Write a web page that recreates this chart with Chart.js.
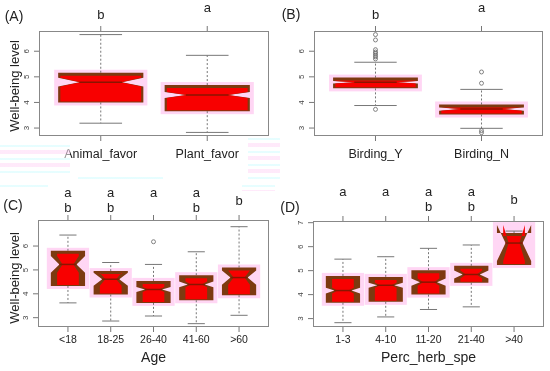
<!DOCTYPE html>
<html lang="en">
<head>
<meta charset="UTF-8" />
<title>Well-being level boxplots</title>
<script src="https://cdn.jsdelivr.net/npm/chart.js"></script>
<style>
  html, body { margin: 0; padding: 0; background: #fff; }
  #wrap { position: relative; width: 550px; height: 371px; overflow: hidden; }
  canvas { position: absolute; }
  .glitch { position: absolute; opacity: 0.55;
    background: repeating-linear-gradient(180deg, #d2fcff 0 2px, #fff 2px 5px, #ffd8f6 5px 9px, #fff 9px 13px); }
</style>
</head>
<body>
<div id="wrap">
  <canvas id="cA" style="left:0;top:0" width="275" height="185"></canvas>
  <canvas id="cB" style="left:275px;top:0" width="275" height="185"></canvas>
  <canvas id="cC" style="left:0;top:185px" width="275" height="186"></canvas>
  <canvas id="cD" style="left:275px;top:185px" width="275" height="186"></canvas>
  <div class="glitch" style="left:0;top:145px;width:70px;height:28px"></div>
  <div class="glitch" style="left:78px;top:177px;width:85px;height:5px"></div>
  <div class="glitch" style="left:248px;top:138px;width:32px;height:44px"></div>
  <div class="glitch" style="left:0;top:185px;width:48px;height:4px"></div>
  <div class="glitch" style="left:242px;top:185px;width:33px;height:6px"></div>
</div>

<script>
  // (A) favourite organism
  const catsA = ['Animal_favor', 'Plant_favor'];
  const lettersA = ['b', 'a'];
  const loA = [3.19, 2.83];
  const q1A = [4.00, 3.66];
  const medA = [4.79, 4.29];
  const q3A = [5.16, 4.68];
  const hiA = [6.65, 5.84];
  const notchA = [0.17, 0.12];
  const outA = [[], []];

  // (B) birding
  const catsB = ['Birding_Y', 'Birding_N'];
  const lettersB = ['b', 'a'];
  const loB = [3.88, 2.99];
  const q1B = [4.55, 3.53];
  const medB = [4.79, 3.74];
  const q3B = [4.97, 3.92];
  const hiB = [5.57, 4.51];
  const notchB = [0.05, 0.06];
  const outB = [[3.73, 5.70, 5.78, 5.84, 5.91, 5.97, 6.06, 6.44, 6.65], [5.19, 4.75, 2.90, 2.82]];

  // (C) age
  const catsC = ['<18', '18-25', '26-40', '41-60', '>60'];
  const lettersC = ['ab', 'ab', 'a', 'ab', 'b'];
  const loC = [3.62, 2.86, 3.07, 2.75, 3.10];
  const q1C = [4.33, 3.97, 3.62, 3.73, 3.94];
  const medC = [5.23, 4.61, 4.18, 4.39, 4.68];
  const q3C = [5.80, 4.95, 4.54, 4.78, 5.10];
  const hiC = [6.46, 5.31, 5.23, 5.76, 6.81];
  const notchC = [0.35, 0.27, 0.10, 0.12, 0.30];
  const outC = [[], [], [6.18], [], []];

  // (D) percentage of herbaceous species
  const catsD = ['1-3', '4-10', '11-20', '21-40', '>40'];
  const lettersD = ['a', 'a', 'ab', 'ab', 'b'];
  const loD = [2.83, 3.07, 3.38, 3.49, 5.24];
  const q1D = [3.66, 3.70, 4.00, 4.49, 5.24];
  const medD = [4.17, 4.39, 4.52, 4.84, 6.15];
  const q3D = [4.78, 4.74, 5.02, 5.20, 6.57];
  const hiD = [5.48, 5.58, 5.93, 6.07, 6.65];
  const notchD = [0.12, 0.10, 0.15, 0.17, 0.75];
  const outD = [[], [], [], [], []];

  const FONT = '"Liberation Sans", Arial, sans-serif';

  function boxPlugin(cfg, d) {
    return {
      id: 'boxes',
      beforeDatasetsDraw(chart) {
        const { ctx, chartArea: a, scales: { x, y } } = chart;
        const seg = (x1, y1, x2, y2) => { ctx.beginPath(); ctx.moveTo(x1, y1); ctx.lineTo(x2, y2); ctx.stroke(); };
        ctx.save();

        d.cats.forEach((c, i) => {
          const cx = x.getPixelForValue(i + 1);
          const xl = x.getPixelForValue(i + 1 - 0.4);
          const xr = x.getPixelForValue(i + 1 + 0.4);
          const hw = (xr - xl) / 2;
          const pQ1 = y.getPixelForValue(d.q1[i]);
          const pQ3 = y.getPixelForValue(d.q3[i]);
          const pMed = y.getPixelForValue(d.med[i]);
          const pLo = y.getPixelForValue(d.lo[i]);
          const pHi = y.getPixelForValue(d.hi[i]);
          const nTop = y.getPixelForValue(d.med[i] + d.notch[i]);
          const nBot = y.getPixelForValue(d.med[i] - d.notch[i]);

          // pink halo behind each box
          const top = Math.min(pQ3, nTop), bot = Math.max(pQ1, nBot);
          ctx.fillStyle = 'rgba(255,200,240,0.75)';
          ctx.fillRect(xl - 4, top - 3, xr - xl + 8, bot - top + 6);

          // dashed whiskers
          ctx.strokeStyle = '#777';
          ctx.lineWidth = 1;
          ctx.setLineDash([2, 2]);
          seg(cx, pQ3, cx, pHi);
          seg(cx, pQ1, cx, pLo);
          ctx.setLineDash([]);

          // notched box: brown outer, red inner
          const poly = (ins, tIns, bIns) => {
            ctx.beginPath();
            ctx.moveTo(xl + ins, pQ1 - bIns);
            ctx.lineTo(xl + ins, nBot);
            ctx.lineTo(cx - hw / 2 + ins * 0.5, pMed);
            ctx.lineTo(xl + ins, nTop);
            ctx.lineTo(xl + ins, pQ3 + tIns);
            ctx.lineTo(xr - ins, pQ3 + tIns);
            ctx.lineTo(xr - ins, nTop);
            ctx.lineTo(cx + hw / 2 - ins * 0.5, pMed);
            ctx.lineTo(xr - ins, nBot);
            ctx.lineTo(xr - ins, pQ1 - bIns);
            ctx.closePath();
            ctx.fill();
          };
          ctx.fillStyle = '#7d3a10';
          poly(0, 0, 0);
          ctx.fillStyle = '#f80000';
          poly(Math.max(2, 9 - 0.16 * hw), 3, 1);

          // median
          ctx.strokeStyle = '#8a1500';
          ctx.lineWidth = 1.5;
          seg(cx - hw / 2, pMed, cx + hw / 2, pMed);

          // staples
          ctx.strokeStyle = '#777';
          ctx.lineWidth = 1;
          seg(cx - hw / 2, pHi, cx + hw / 2, pHi);
          if (d.lo[i] < d.q1[i]) seg(cx - hw / 2, pLo, cx + hw / 2, pLo);

          // ticks top and bottom
          ctx.strokeStyle = '#777';
          seg(cx, a.top, cx, a.top - 5);
          seg(cx, a.bottom, cx, a.bottom + 5);

          // category label
          ctx.fillStyle = '#222';
          ctx.textAlign = 'center';
          ctx.textBaseline = 'middle';
          ctx.font = cfg.catFont + 'px ' + FONT;
          ctx.fillText(c, cx, cfg.catY);

          // significance letters
          ctx.font = '13px ' + FONT;
          const L = d.letters[i];
          if (L.length === 2) {
            ctx.fillText(L[0], cx, cfg.rowTop);
            ctx.fillText(L[1], cx, cfg.rowBot);
          } else if (L === 'a') {
            ctx.fillText(L, cx, cfg.rowTop);
          } else {
            ctx.fillText(L, cx, cfg.rowMid);
          }
        });

        // plot frame
        ctx.strokeStyle = '#888';
        ctx.lineWidth = 1;
        ctx.strokeRect(a.left + 0.5, a.top + 0.5, a.right - a.left - 1, a.bottom - a.top - 1);

        // y ticks with rotated labels
        ctx.font = '8px ' + FONT;
        ctx.fillStyle = '#444';
        cfg.yTicks.forEach(v => {
          const py = y.getPixelForValue(v);
          ctx.strokeStyle = '#777';
          seg(a.left, py, a.left - 5, py);
          ctx.save();
          ctx.translate(a.left - 12, py);
          ctx.rotate(-Math.PI / 2);
          ctx.textAlign = 'center';
          ctx.textBaseline = 'middle';
          ctx.fillText(String(v), 0, 0);
          ctx.restore();
        });

        // panel label, axis titles
        ctx.fillStyle = '#222';
        ctx.textAlign = 'center';
        ctx.textBaseline = 'middle';
        ctx.font = '14px ' + FONT;
        ctx.fillText(cfg.tag, cfg.tagX, cfg.tagY);
        if (cfg.ylab) {
          ctx.save();
          ctx.translate(15, cfg.ylabY);
          ctx.rotate(-Math.PI / 2);
          ctx.font = '13px ' + FONT;
          ctx.fillText(cfg.ylab, 0, 0);
          ctx.restore();
        }
        if (cfg.xlab) {
          ctx.font = '14px ' + FONT;
          ctx.fillText(cfg.xlab, (a.left + a.right) / 2, cfg.xlabY);
        }
        ctx.restore();
      }
    };
  }

  function makePanel(id, cfg, d) {
    const pts = [];
    d.out.forEach((arr, i) => arr.forEach(v => pts.push({ x: i + 1, y: v })));
    const n = d.cats.length;
    const ext = 0.04 * n;
    new Chart(document.getElementById(id), {
      type: 'scatter',
      data: {
        datasets: [{
          data: pts,
          pointStyle: 'circle',
          pointRadius: 2,
          borderColor: '#666',
          backgroundColor: 'rgba(0,0,0,0)',
          borderWidth: 0.8
        }]
      },
      options: {
        responsive: false,
        animation: false,
        devicePixelRatio: 1,
        layout: { padding: cfg.pad },
        plugins: { legend: { display: false }, tooltip: { enabled: false } },
        scales: {
          x: { type: 'linear', display: false, min: 0.5 - ext, max: n + 0.5 + ext },
          y: { type: 'linear', display: false, min: cfg.yMin, max: cfg.yMax }
        }
      },
      plugins: [boxPlugin(cfg, d)]
    });
  }

  makePanel('cA', {
    pad: { left: 39, top: 31, right: 6, bottom: 49 }, yMin: 2.69, yMax: 6.79, yTicks: [3, 4, 5, 6],
    catY: 155, catFont: 12.5, rowTop: 8, rowMid: 15, rowBot: 22,
    tag: '(A)', tagX: 14, tagY: 17, ylab: 'Well-being level', ylabY: 86
  }, { cats: catsA, letters: lettersA, lo: loA, q1: q1A, med: medA, q3: q3A, hi: hiA, notch: notchA, out: outA });

  makePanel('cB', {
    pad: { left: 39, top: 31, right: 7, bottom: 49 }, yMin: 2.69, yMax: 6.79, yTicks: [3, 4, 5, 6],
    catY: 155, catFont: 12.5, rowTop: 8, rowMid: 15, rowBot: 22,
    tag: '(B)', tagX: 16, tagY: 15
  }, { cats: catsB, letters: lettersB, lo: loB, q1: q1B, med: medB, q3: q3B, hi: hiB, notch: notchB, out: outB });

  makePanel('cC', {
    pad: { left: 38, top: 35, right: 6, bottom: 44 }, yMin: 2.61, yMax: 7.09, yTicks: [3, 4, 5, 6],
    catY: 155, catFont: 10.5, rowTop: 8, rowMid: 16, rowBot: 23,
    tag: '(C)', tagX: 13, tagY: 21, ylab: 'Well-being level', ylabY: 93,
    xlab: 'Age', xlabY: 173
  }, { cats: catsC, letters: lettersC, lo: loC, q1: q1C, med: medC, q3: q3C, hi: hiC, notch: notchC, out: outC });

  makePanel('cD', {
    pad: { left: 38, top: 36, right: 6, bottom: 44 }, yMin: 2.65, yMax: 7.07, yTicks: [3, 4, 5, 6, 7],
    catY: 155, catFont: 10.5, rowTop: 7, rowMid: 15, rowBot: 22,
    tag: '(D)', tagX: 15, tagY: 23, xlab: 'Perc_herb_spe', xlabY: 173
  }, { cats: catsD, letters: lettersD, lo: loD, q1: q1D, med: medD, q3: q3D, hi: hiD, notch: notchD, out: outD });
</script>
</body>
</html>
